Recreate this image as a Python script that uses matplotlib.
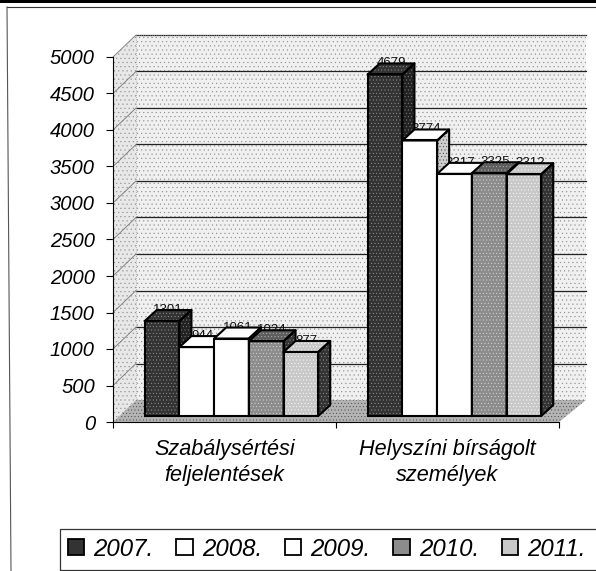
import matplotlib
matplotlib.use("Agg")
import matplotlib.pyplot as plt
from matplotlib.lines import Line2D
from matplotlib.patches import Patch, Rectangle

plt.rcParams["font.family"] = ["Liberation Sans", "DejaVu Sans"]
plt.rcParams["hatch.linewidth"] = 0.3

# DADOS
categorias = ["Szabálysértési\nfeljelentések", "Helyszíni bírságolt\nszemélyek"]
anos = ["2007.", "2008.", "2009.", "2010.", "2011."]
v2007 = [1301, 4679]
v2008 = [944, 3774]
v2009 = [1061, 3317]
v2010 = [1024, 3325]
v2011 = [877, 3312]
series = [v2007, v2008, v2009, v2010, v2011]
ticks_y = list(range(0, 5001, 500))

# (fundo, cor do hatch, hatch) de frente, topo e lado
estilos = [
    (("#333333", "#999999", "....."), ("#333333", "#999999", "....."), ("#222222", "#888888", ".....")),
    (("white", "white", ""), ("white", "white", ""), ("#cfcfcf", "#333333", ".....")),
    (("white", "white", ""), ("white", "white", ""), ("#cfcfcf", "#333333", ".....")),
    (("#8c8c8c", "#dddddd", "....."), ("#5e5e5e", "#bbbbbb", "....."), ("#333333", "#999999", ".....")),
    (("#c8c8c8", "#ffffff", "....."), ("#c8c8c8", "#ffffff", "....."), ("#333333", "#999999", ".....")),
]

fig = plt.figure(figsize=(5.96, 5.71), dpi=100)
ax = fig.add_axes([113 / 596, 149 / 571, 446 / 596, 365 / 571])
ax.set_xlim(0, 2)
ax.set_ylim(0, 5000)
ax.patch.set_visible(False)

# conversao de pixels para unidades dos eixos
px_x = 2 / 446
px_y = 5000 / 365
parede_dx = 23 * px_x
parede_dy = 22 * px_y
prof_dx = 12 * px_x
prof_dy = 11 * px_y
base_x = 7 * px_x
base_y = 6 * px_y
larg = 34.7 * px_x


def face(xs, ys, cor, cor_hatch, hatch, z, borda="black", lw=1.5):
    ax.fill(xs, ys, facecolor=cor, edgecolor=cor_hatch, hatch=hatch, lw=0, zorder=z, clip_on=False)
    if lw > 0:
        ax.fill(xs, ys, facecolor="none", edgecolor=borda, lw=lw, zorder=z + 0.01, clip_on=False, joinstyle="round")


# PAREDES E CHAO
x_dir = 2 + 27 * px_x
face([parede_dx, x_dir, x_dir, parede_dx], [parede_dy, parede_dy, 5000 + parede_dy, 5000 + parede_dy],
     "#f0f0f0", "#8a8a8a", "....", 1, lw=0)
face([0, parede_dx, parede_dx, 0], [0, parede_dy, 5000 + parede_dy, 5000],
     "#e8e8e8", "#8a8a8a", "....", 1, lw=0)
face([0, 2, x_dir, parede_dx], [0, 0, parede_dy, parede_dy],
     "#b4b4b4", "#444444", ".....", 1.5, lw=0)

for t in ticks_y[1:]:
    ax.plot([parede_dx, x_dir], [t + parede_dy] * 2, color="#222222", lw=0.9, zorder=2, clip_on=False)
    ax.plot([0, parede_dx], [t, t + parede_dy], color="#777777", lw=0.6, zorder=2, clip_on=False)
ax.plot([parede_dx, x_dir], [5000 + parede_dy] * 2, color="#999999", lw=0.6, ls=":", zorder=2, clip_on=False)
ax.plot([parede_dx, parede_dx], [parede_dy, 5000 + parede_dy], color="#999999", lw=0.6, ls=":", zorder=2, clip_on=False)

# BARRAS
for i_cat in range(len(categorias)):
    esquerda = i_cat + 0.5 + base_x - 2.5 * larg
    for i_ano, vals in enumerate(series):
        v = vals[i_cat]
        x0 = esquerda + i_ano * larg
        x1 = x0 + larg
        y0 = base_y
        y1 = base_y + v
        frente, topo, lado = estilos[i_ano]
        z = 4 + i_ano * 0.1

        # rotulo fica atras da barra, como no original
        ax.text(x0 + larg / 2 + prof_dx / 2, y1 + prof_dy, str(v), ha="center", va="center",
                fontsize=9.5, color="#111111", zorder=3, clip_on=False)

        ax.bar(x0 + larg / 2, v, larg, bottom=y0, color=frente[0], edgecolor=frente[1], hatch=frente[2],
               lw=0, zorder=z, clip_on=False)
        ax.add_patch(Rectangle((x0, y0), larg, v, fill=False, edgecolor="black", lw=1.5, zorder=z + 0.02, clip_on=False))
        face([x0, x1, x1 + prof_dx, x0 + prof_dx], [y1, y1, y1 + prof_dy, y1 + prof_dy], *topo, z)
        face([x1, x1 + prof_dx, x1 + prof_dx, x1], [y0, y0 + prof_dy, y1 + prof_dy, y1], *lado, z)

# EIXOS
for lado in ["top", "right"]:
    ax.spines[lado].set_visible(False)
ax.spines["left"].set_zorder(6)
ax.spines["bottom"].set_zorder(6)
ax.set_yticks(ticks_y)
ax.set_yticklabels([str(t) for t in ticks_y], fontsize=14.5, style="italic")
ax.set_xticks([0, 1, 2])
ax.set_xticklabels(["", "", ""])
ax.set_xticks([0.5, 1.5], categorias, minor=True, fontsize=15.6, style="italic", linespacing=1.35)
ax.tick_params(axis="x", which="minor", length=0, pad=12)
ax.tick_params(axis="x", which="major", length=4, width=0.8)
ax.tick_params(axis="y", length=5, width=0.8, pad=8)

# LEGENDA
fig.add_artist(Rectangle((60 / 596, 1 / 571), 540 / 596, 41 / 571, transform=fig.transFigure,
                         facecolor="white", edgecolor="#333333", lw=0.9))
handles = []
for (frente, _, _), ano in zip(estilos, anos):
    handles.append(Patch(facecolor=frente[0], edgecolor="black", lw=1.3, label=ano))
leg = fig.legend(handles=handles, loc="center left", bbox_to_anchor=(68 / 596, 22 / 571), ncol=5,
                 prop={"size": 17.3, "style": "italic"}, handlelength=0.68, handleheight=0.68,
                 handletextpad=0.38, columnspacing=0.95, borderpad=0, borderaxespad=0, frameon=False)

# MOLDURA DA DIGITALIZACAO
fig.add_artist(Rectangle((0, 568 / 571), 1, 3 / 571, transform=fig.transFigure, color="black", lw=0))
fig.add_artist(Line2D([7 / 596, 1], [564 / 571, 564 / 571], color="#333333", lw=0.8))
fig.add_artist(Line2D([7 / 596, 11 / 596], [564 / 571, 0], color="#555555", lw=0.8))

plt.savefig("out.png", dpi=100)
plt.close()
